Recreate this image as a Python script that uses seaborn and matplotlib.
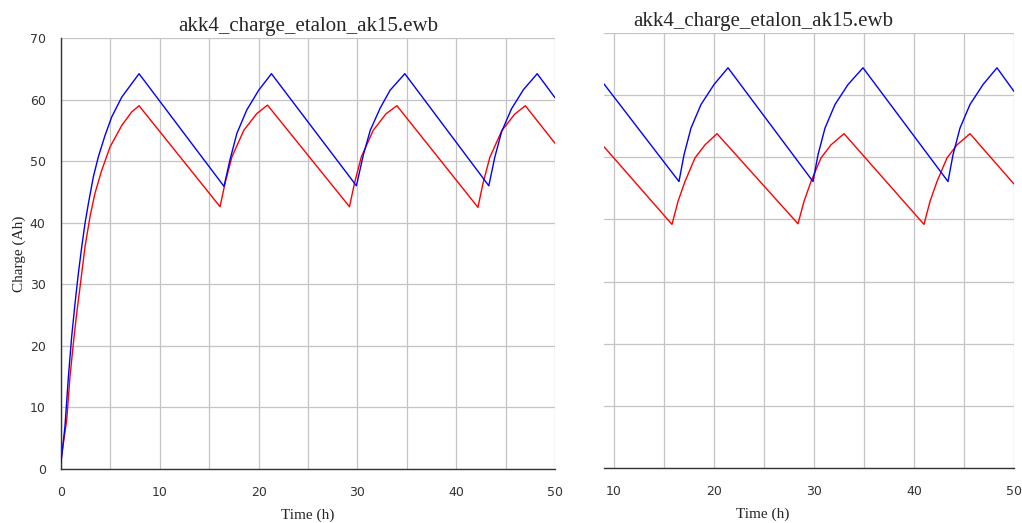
import matplotlib
matplotlib.use("Agg")
from matplotlib import pyplot as plt
from matplotlib.ticker import MultipleLocator
import pandas as pd
import seaborn as sns

# left run: charge curves
left_blue_t = [0, 0.4, 0.75, 1.08, 1.42, 1.76, 2.1, 2.43, 2.77, 3.28, 3.78, 4.46, 5.14, 6.15, 7.16, 7.9,
               16.5, 17.1, 17.8, 18.8, 20.0, 21.3,
               29.9, 30.6, 31.3, 32.3, 33.3, 34.8,
               43.3, 43.9, 44.6, 45.6, 46.8, 48.2,
               50.0]
left_blue_q = [1.0, 6.9, 15.0, 21.5, 26.9, 31.8, 36.1, 39.9, 43.1, 47.5, 50.7, 54.2, 57.2, 60.4, 62.6, 64.2,
               45.9, 50.2, 54.5, 58.3, 61.5, 64.2,
               46.0, 51.0, 55.0, 58.6, 61.5, 64.2,
               46.0, 50.6, 54.8, 58.5, 61.6, 64.2,
               60.3]
left_red_t = [0, 0.58, 0.91, 1.25, 1.59, 1.93, 2.43, 2.94, 3.44, 4.12, 4.96, 6.15, 7.16, 7.9,
              16.1, 16.6, 17.3, 18.5, 19.8, 20.9,
              29.2, 29.7, 30.4, 31.6, 32.9, 34.0,
              42.2, 42.7, 43.4, 44.6, 45.9, 47.0,
              50.0]
left_red_q = [1.5, 8.0, 15.0, 20.4, 25.3, 29.6, 36.1, 41.0, 44.8, 48.5, 52.3, 55.8, 58.0, 59.0,
              42.6, 46.4, 50.7, 55.0, 57.7, 59.1,
              42.6, 46.4, 50.7, 55.0, 57.7, 59.0,
              42.5, 46.3, 50.6, 54.9, 57.6, 59.0,
              52.9]

# right run
right_blue_t = [9.0, 16.5, 17.0, 17.7, 18.7, 20.0, 21.4,
                29.9, 30.4, 31.1, 32.1, 33.4, 34.9,
                43.4, 43.9, 44.6, 45.6, 46.9, 48.3,
                50.0]
right_blue_q = [61.8, 46.1, 50.4, 54.7, 58.5, 61.7, 64.4,
                46.1, 50.4, 54.7, 58.5, 61.7, 64.4,
                46.1, 50.4, 54.7, 58.5, 61.7, 64.4,
                60.6]
right_red_t = [9.0, 15.8, 16.4, 17.1, 18.1, 19.1, 20.3,
               28.4, 29.0, 29.7, 30.7, 31.7, 33.0,
               41.0, 41.6, 42.3, 43.3, 44.3, 45.6,
               50.0]
right_red_q = [51.7, 39.2, 42.9, 46.1, 49.9, 52.0, 53.8,
               39.3, 42.9, 46.1, 49.9, 52.0, 53.8,
               39.2, 42.9, 46.1, 49.9, 52.0, 53.8,
               45.7]

title = "akk4_charge_etalon_ak15.ewb"


def frame(bt, bq, rt, rq):
    a = pd.DataFrame({"t": rt, "q": rq, "s": "red"})
    b = pd.DataFrame({"t": bt, "q": bq, "s": "blue"})
    return pd.concat([a, b], ignore_index=True)


sns.set_style("white")
plt.rcParams["font.family"] = ["DejaVu Sans"]
serif = "Liberation Serif"

fig = plt.figure(figsize=(10.22, 5.23), dpi=100)
ax1 = fig.add_axes([61 / 1022, 54 / 523, 494 / 1022, 431 / 523])
ax2 = fig.add_axes([604 / 1022, 55 / 523, 410 / 1022, 435 / 523])

pal = {"red": "#ff0000", "blue": "#0000ff"}
grid_kw = dict(color="#c4c4c4", linewidth=0.9)

for ax, df, xlo in [(ax1, frame(left_blue_t, left_blue_q, left_red_t, left_red_q), 0),
                    (ax2, frame(right_blue_t, right_blue_q, right_red_t, right_red_q), 9)]:
    sns.lineplot(data=df, x="t", y="q", hue="s", hue_order=["red", "blue"], palette=pal,
                 estimator=None, sort=False, linewidth=1.0, legend=False, ax=ax, zorder=3)
    ax.set_xlim(xlo, 50)
    ax.set_ylim(0, 70)
    ax.xaxis.set_major_locator(MultipleLocator(10))
    ax.xaxis.set_minor_locator(MultipleLocator(5))
    ax.yaxis.set_major_locator(MultipleLocator(10))
    ax.grid(True, which="both", axis="x", **grid_kw)
    ax.grid(True, which="major", axis="y", **grid_kw)
    ax.set_axisbelow(True)
    for side in ["top", "right"]:
        ax.spines[side].set_visible(False)
    ax.spines["bottom"].set_color("#333333")
    ax.spines["bottom"].set_linewidth(1.0)
    ax.spines["bottom"].set_zorder(4)
    ax.tick_params(axis="x", which="major", direction="out", length=4, width=1,
                   color="#333333", labelsize=9, labelcolor="#333333", pad=8)
    ax.tick_params(axis="x", which="minor", length=0)
    ax.set_xlabel("")
    ax.set_ylabel("")
    xc = 0.5 if ax is ax1 else 0.388
    ax.text(xc, -0.107, "Time (h)", transform=ax.transAxes,
            ha="center", va="center", family=serif, fontsize=11)
    ax.text(xc, 1.016, title, transform=ax.transAxes, ha="center", va="baseline",
            family=serif, fontsize=15)

ax1.spines["left"].set_color("#333333")
ax1.spines["left"].set_linewidth(1.0)
ax1.tick_params(axis="y", direction="out", length=5, width=1, color="#333333",
                labelsize=9, labelcolor="#333333", pad=6)
ax1.set_ylabel("Charge (Ah)", family=serif, fontsize=11, labelpad=3)

ax2.spines["left"].set_visible(False)
ax2.tick_params(axis="y", length=0, labelleft=False)

fig.savefig("out.png", dpi=100)
